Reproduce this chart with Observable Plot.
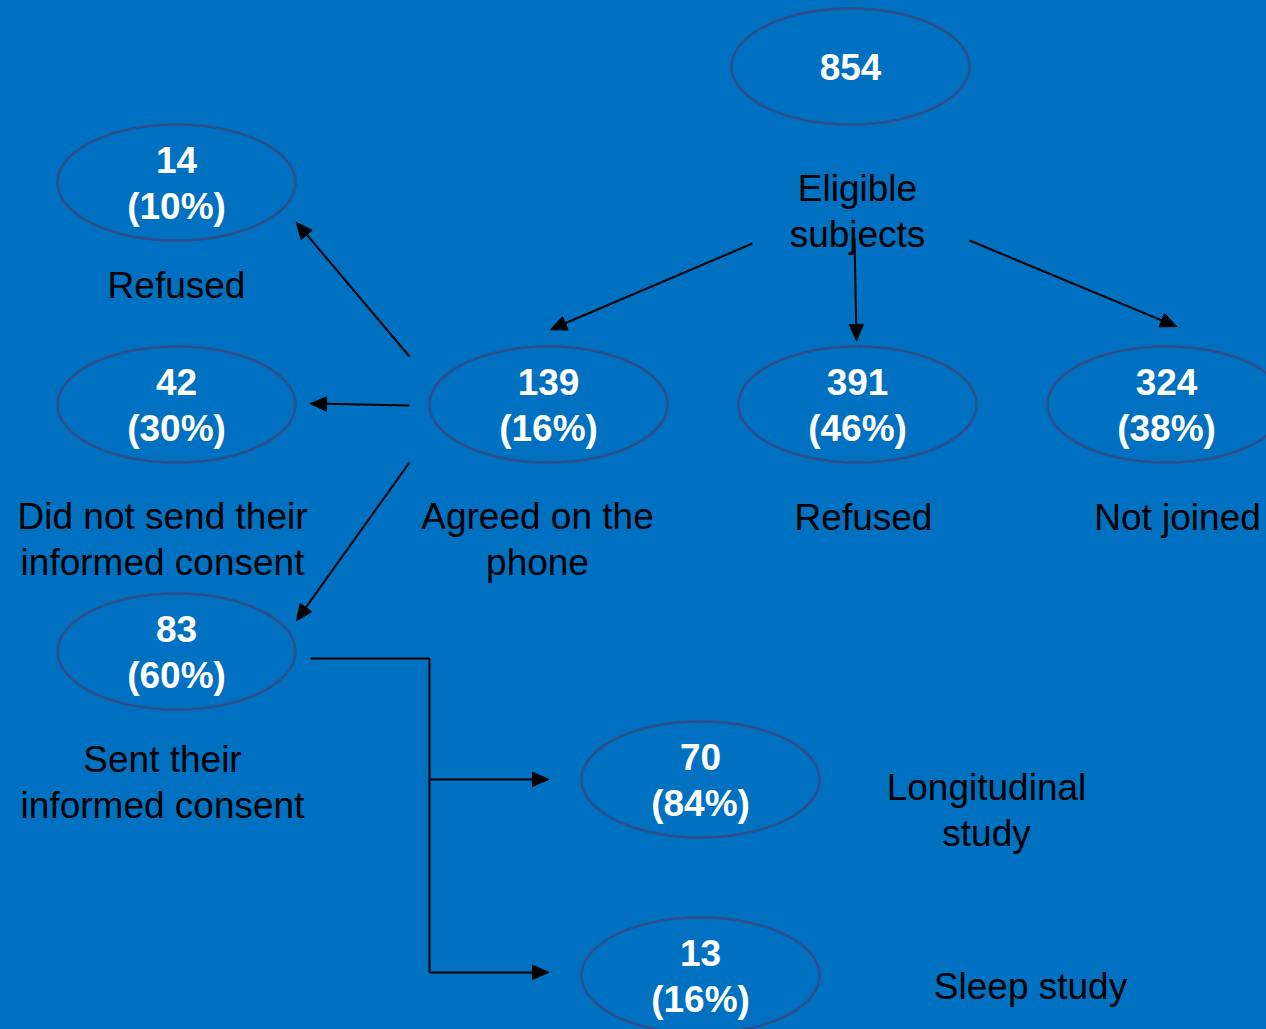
<!DOCTYPE html>
<html>
<head>
<meta charset="utf-8">
<script src="https://cdn.jsdelivr.net/npm/d3@7"></script>
<script src="https://cdn.jsdelivr.net/npm/@observablehq/plot@0.6"></script>
<style>
  html, body { margin: 0; padding: 0; background: #0070C0; }
  #chart svg { display: block; }
</style>
</head>
<body>
<div id="chart"></div>
<script>
// ---- Data ----
const counts = [854, 14, 42, 139, 391, 324, 83, 70, 13];
const percents = [null, 10, 30, 16, 46, 38, 60, 84, 16];
const labels = [
  "Eligible\nsubjects",
  "Refused",
  "Did not send their\ninformed consent",
  "Agreed on the\nphone",
  "Refused",
  "Not joined",
  "Sent their\ninformed consent",
  "Longitudinal\nstudy",
  "Sleep study"
];

// ---- Layout (diagram positions, in the 1266x1029 frame) ----
const nodeX = [850, 176, 176, 548, 857, 1166, 176, 700, 700];
const nodeY = [65, 181, 403, 403, 403, 403, 650, 778, 974];
const labelX = [857, 176, 162, 537, 863, 1177, 162, 986, 1030];
const labelY = [209, 283, 537, 537, 515, 515, 780, 808, 984];
// connectors: x1, y1, x2, y2, arrowhead?
const connectors = [
  [752, 243, 550, 329, true],
  [854, 238, 856, 340, true],
  [969, 240, 1176, 326, true],
  [409, 356, 296, 222, true],
  [409, 405, 310, 403, true],
  [409, 462, 296, 620, true],
  [310, 658, 429, 658, false],
  [429, 658, 429, 972, false],
  [429, 779, 548, 779, true],
  [429, 972, 548, 972, true]
];

const W = 1266, H = 1029;
const RX = 119, RY = 58;
const HEAD_LEN = 16, HEAD_HALF = 7;

const nodes = counts.map((c, i) => ({
  x: nodeX[i], y: nodeY[i],
  text: percents[i] == null ? String(c) : `${c}\n(${percents[i]}%)`
}));
const labelRows = labels.map((t, i) => ({x: labelX[i], y: labelY[i], text: t}));

// ellipse outlines (centred on the node positions)
const ellipsePts = [];
nodes.forEach((n, i) => {
  for (let k = 0; k < 120; k++) {
    const a = (k / 120) * 2 * Math.PI;
    ellipsePts.push({id: i, x: n.x + RX * Math.cos(a), y: n.y + 1 + RY * Math.sin(a)});
  }
});

// connector shafts and heads
const shafts = [];
const heads = [];
connectors.forEach(([x1, y1, x2, y2, head], i) => {
  const dx = x2 - x1, dy = y2 - y1, L = Math.hypot(dx, dy);
  const ux = dx / L, uy = dy / L;
  const ex = head ? x2 - ux * (HEAD_LEN - 2) : x2;
  const ey = head ? y2 - uy * (HEAD_LEN - 2) : y2;
  shafts.push({x1, y1, x2: ex, y2: ey});
  if (head) {
    const bx = x2 - ux * HEAD_LEN, by = y2 - uy * HEAD_LEN;
    const px = -uy, py = ux;
    heads.push({id: i, x: x2, y: y2});
    heads.push({id: i, x: bx + px * HEAD_HALF, y: by + py * HEAD_HALF});
    heads.push({id: i, x: bx - px * HEAD_HALF, y: by - py * HEAD_HALF});
  }
});

const chart = Plot.plot({
  width: W,
  height: H,
  margin: 0,
  style: {background: "#0070C0", fontFamily: "'Liberation Sans', Arial, sans-serif"},
  x: {domain: [0, W], range: [0, W], axis: null},
  y: {domain: [0, H], range: [0, H], axis: null},
  marks: [
    Plot.line(ellipsePts, {x: "x", y: "y", z: "id", curve: "linear-closed", stroke: "#2F4E8C", strokeWidth: 2.5, fill: "none"}),
    Plot.text(labelRows, {x: "x", y: "y", text: "text", fill: "black", fontSize: 37, lineHeight: 1.22, lineAnchor: "middle", textAnchor: "middle"}),
    Plot.link(shafts, {x1: "x1", y1: "y1", x2: "x2", y2: "y2", stroke: "black", strokeWidth: 2}),
    Plot.line(heads, {x: "x", y: "y", z: "id", curve: "linear-closed", fill: "black", stroke: "black", strokeWidth: 1}),
    Plot.text(nodes, {x: "x", y: "y", text: "text", fill: "white", fontWeight: "bold", fontSize: 37, lineHeight: 1.25, lineAnchor: "middle", textAnchor: "middle"})
  ]
});
document.getElementById("chart").appendChild(chart);
</script>
</body>
</html>
